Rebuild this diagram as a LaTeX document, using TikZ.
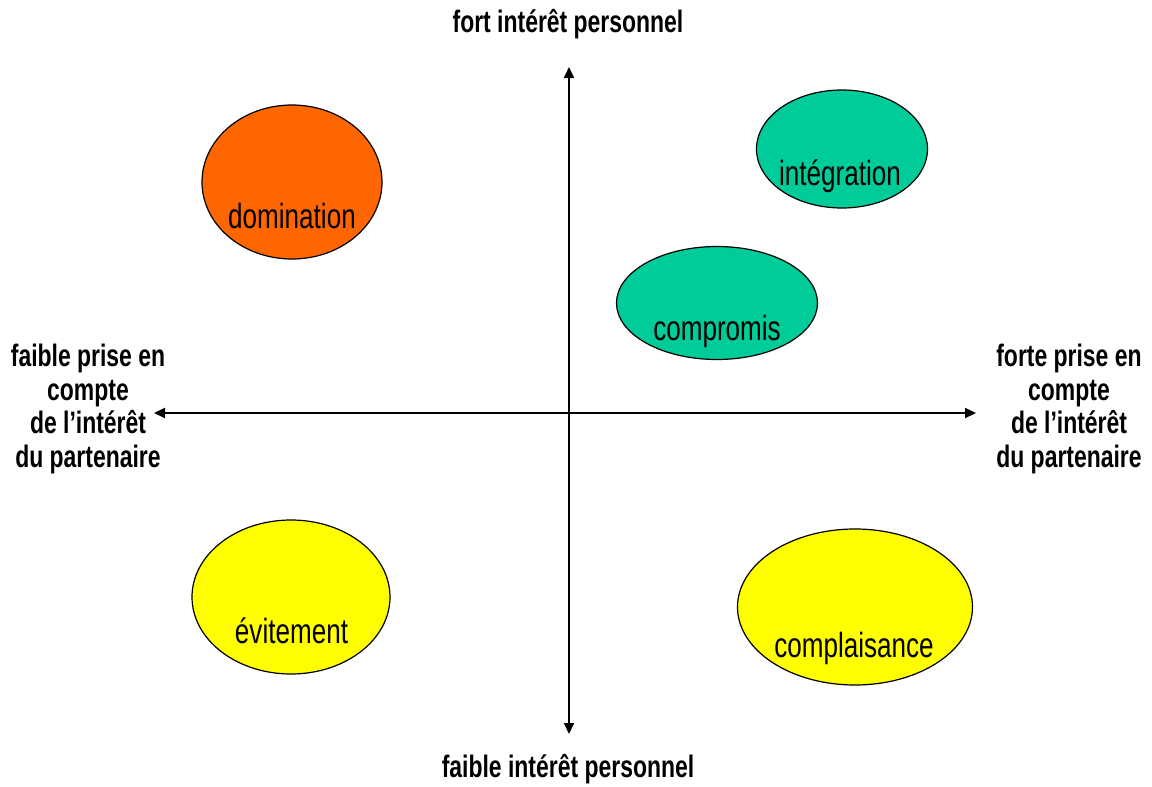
\documentclass[tikz,border=0pt]{standalone}
\usepackage{fontspec}
\setmainfont{Liberation Sans}
\newfontfamily\labfont[FakeStretch=0.745]{Liberation Sans}
\newfontfamily\axfont[FakeStretch=0.74]{Liberation Sans Bold}
\usetikzlibrary{shapes.geometric,arrows.meta}
\definecolor{orng}{HTML}{FF6600}
\definecolor{teal2}{HTML}{00CC99}
\definecolor{yel}{HTML}{FFFF00}
\tikzset{
  blob/.style={ellipse,draw=black,line width=1.2pt,inner sep=0pt},
  lab/.style={anchor=base,inner sep=0pt,font=\labfont\fontsize{35}{40}\selectfont},
  axlab/.style={inner sep=0pt,font=\axfont\fontsize{31}{33.4}\selectfont,align=center},
  axis/.style={line width=2pt,{Triangle[length=11pt,width=10pt]}-{Triangle[length=11pt,width=10pt]}}
}
\begin{document}
\begin{tikzpicture}[x=1pt,y=-1pt]
\useasboundingbox (0,0) rectangle (1152,787);
\fill[white] (0,0) rectangle (1152,787);
% axes
\coordinate (vt) at (569,67);
\coordinate (vb) at (569,734);
\coordinate (hl) at (154,413);
\coordinate (hr) at (976,413);
\draw[axis] (vb) -- (vt);
\draw[axis] (hl) -- (hr);
% axis labels
\node[axlab,anchor=base] (top) at (568,32) {fort intérêt personnel};
\node[axlab,anchor=base] (bot) at (568,777) {faible intérêt personnel};
\node[axlab] (left) at (88,409) {faible prise en\\compte\\de l’intérêt\\du partenaire};
\node[axlab] (right) at (1069,409) {forte prise en\\compte\\de l’intérêt\\du partenaire};
% ellipses
\node[blob,fill=orng,minimum width=180pt,minimum height=154pt] (dom) at (292,182) {};
\node[blob,fill=teal2,minimum width=171pt,minimum height=118pt] (int) at (842,149) {};
\node[blob,fill=teal2,minimum width=201pt,minimum height=113pt] (comp) at (717,303) {};
\node[blob,fill=yel,minimum width=198pt,minimum height=154pt] (evi) at (291,597) {};
\node[blob,fill=yel,minimum width=235pt,minimum height=156pt] (cpl) at (855,607) {};
% labels
\node[lab] (domt) at (292,228) {domination};
\node[lab] (intt) at (840,185) {intégration};
\node[lab] (compt) at (717,340) {compromis};
\node[lab] (evit) at (291.5,643) {évitement};
\node[lab] (cplt) at (854,657) {complaisance};
\end{tikzpicture}
\end{document}
